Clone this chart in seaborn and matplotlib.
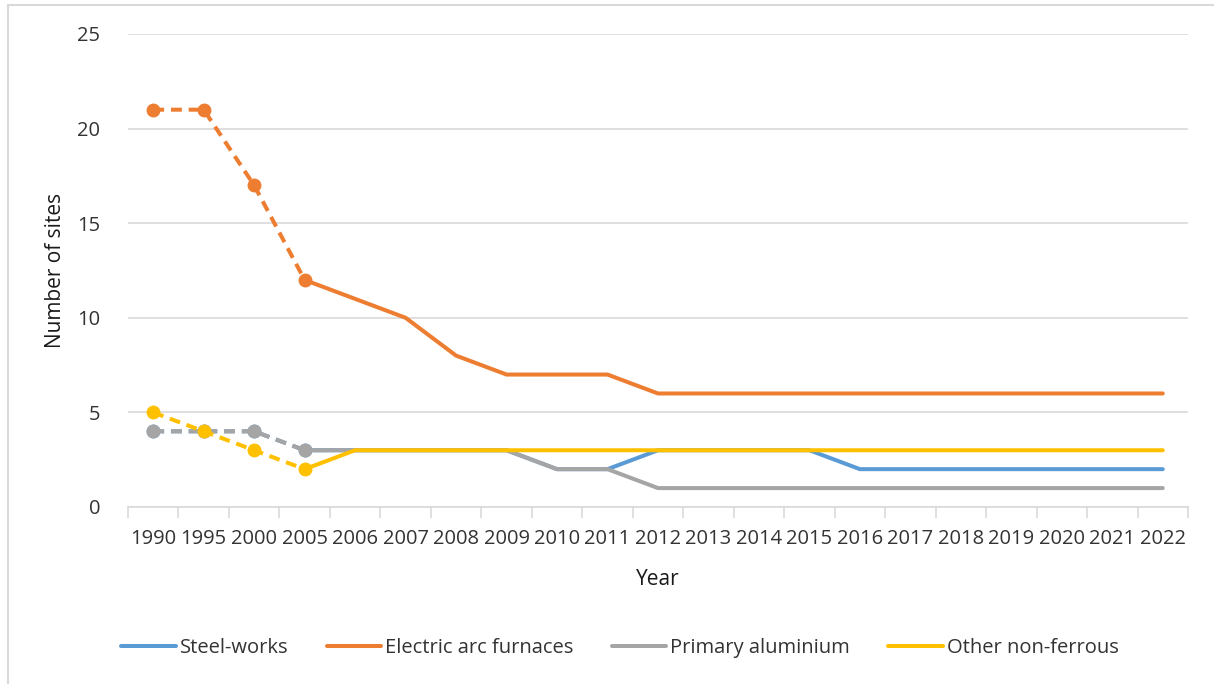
import numpy as np
import pandas as pd
import matplotlib
matplotlib.use("Agg")
import matplotlib.pyplot as plt
from matplotlib.patches import Rectangle
from matplotlib.ticker import FixedLocator, NullFormatter
import seaborn as sns

years = ["1990", "1995", "2000", "2005", "2006", "2007", "2008", "2009", "2010", "2011",
         "2012", "2013", "2014", "2015", "2016", "2017", "2018", "2019", "2020", "2021", "2022"]
steel_works = [4, 4, 4, 3, 3, 3, 3, 3, 2, 2, 3, 3, 3, 3, 2, 2, 2, 2, 2, 2, 2]
electric_arc = [21, 21, 17, 12, 11, 10, 8, 7, 7, 7, 6, 6, 6, 6, 6, 6, 6, 6, 6, 6, 6]
primary_alu = [4, 4, 4, 3, 3, 3, 3, 3, 2, 2, 1, 1, 1, 1, 1, 1, 1, 1, 1, 1, 1]
other_nonferrous = [5, 4, 3, 2, 3, 3, 3, 3, 3, 3, 3, 3, 3, 3, 3, 3, 3, 3, 3, 3, 3]
series_names = ["Steel-works", "Electric arc furnaces", "Primary aluminium", "Other non-ferrous"]
colors = ["#5B9BD5", "#ED7D31", "#A5A5A5", "#FFC000"]
n_dashed = 4  # 1990, 1995, 2000, 2005 are dashed with markers

sns.set_theme(style="white")
plt.rcParams['font.family'] = ['Open Sans', 'DejaVu Sans']

W, H = 1214, 684
fig = plt.figure(figsize=(W / 100, H / 100), dpi=100)
ax = fig.add_axes([128 / W, 1 - 507 / H, (1188 - 128) / W, (507 - 34) / H])

pos = np.arange(len(years))
handles = []
for name, vals, col in zip(series_names,
                           [steel_works, electric_arc, primary_alu, other_nonferrous],
                           colors):
    df = pd.DataFrame({"pos": pos, "value": vals})
    dashed = df.iloc[:n_dashed]
    solid = df.iloc[n_dashed - 1:]
    sns.lineplot(data=dashed, x="pos", y="value", ax=ax, color=col, linewidth=2.9,
                 linestyle=(0, (2.7, 1.7)), marker="o", markersize=10,
                 markeredgewidth=0, legend=False, sort=False)
    sns.lineplot(data=solid, x="pos", y="value", ax=ax, color=col, linewidth=2.9,
                 legend=False, sort=False)
    handles.append(ax.lines[-1])

ax.set_xlim(-0.5, len(years) - 0.5)
ax.set_ylim(0, 25)
ax.set_yticks([0, 5, 10, 15, 20, 25])
ax.yaxis.grid(True, color="#D9D9D9", linewidth=1.2)
ax.set_axisbelow(True)
ax.set_xticks(pos)
ax.set_xticklabels(years)
ax.xaxis.set_minor_locator(FixedLocator(np.arange(-0.5, len(years), 1.0)))
ax.xaxis.set_minor_formatter(NullFormatter())
ax.tick_params(axis="x", which="major", length=0, pad=16, labelsize=14.5, labelcolor="#333333")
ax.tick_params(axis="x", which="minor", length=8, width=1.2, color="#D9D9D9", direction="out", bottom=True)
ax.tick_params(axis="y", length=0, pad=20, labelsize=14.5, labelcolor="#333333")
for s in ["top", "right", "left"]:
    ax.spines[s].set_visible(False)
ax.spines["bottom"].set_color("#D9D9D9")
ax.spines["bottom"].set_linewidth(1.2)

ax.set_xlabel("Year", fontsize=15, color="#1a1a1a", labelpad=14)
ax.set_ylabel("Number of sites", fontsize=15, color="#1a1a1a", labelpad=8)

leg = fig.legend(handles=handles, labels=series_names, loc="center",
                 bbox_to_anchor=(620 / W, 1 - 648 / H), ncol=4, frameon=False,
                 fontsize=14.5, handlelength=2.7, handletextpad=0.2, columnspacing=1.9)
for t in leg.get_texts():
    t.set_color("#333333")

fig.add_artist(Rectangle((8 / W, -0.1), 1.2, 1 - 5 / H + 0.1, transform=fig.transFigure,
                         fill=False, edgecolor="#D9D9D9", linewidth=1.5))

fig.savefig("out.png", dpi=100)
